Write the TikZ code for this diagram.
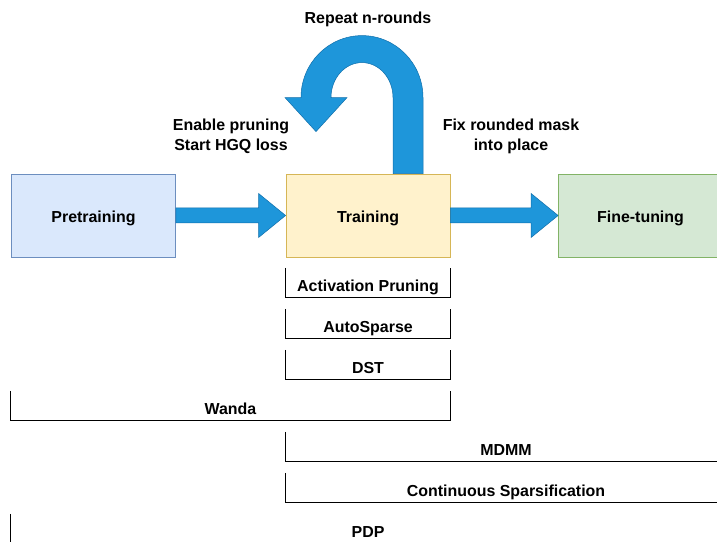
\documentclass[tikz,border=0pt]{standalone}
\usepackage{fontspec}
\setmainfont{Liberation Sans}
\usetikzlibrary{calc}
\definecolor{arrowblue}{RGB}{30,150,218}
\definecolor{arrowedge}{RGB}{16,110,170}
\definecolor{prefill}{HTML}{DAE8FC}
\definecolor{predraw}{HTML}{6C8EBF}
\definecolor{trainfill}{HTML}{FFF2CC}
\definecolor{traindraw}{HTML}{D6B656}
\definecolor{finefill}{HTML}{D5E8D4}
\definecolor{finedraw}{HTML}{82B366}

\begin{document}
\begin{tikzpicture}[x=1bp, y=1bp, font=\fontsize{16}{20}\selectfont\bfseries,
	box/.style={line width=0.8bp, minimum width=164bp, minimum height=83bp, inner sep=0pt, text height=14bp, text depth=0pt},
	stage/.style={minimum height=29bp, inner sep=0pt, text height=18bp, text depth=0pt},
	barrow/.style={fill=arrowblue, draw=arrowedge, line width=0.5bp},
	note/.style={align=center}]
	\clip (0,0) rectangle (717,542);
	
	\node[box, fill=prefill, draw=predraw] (pre) at (93.5,326.5) {Pretraining};
	\node[box, fill=trainfill, draw=traindraw] (train) at (368,326.5) {Training};
	\node[box, fill=finefill, draw=finedraw] (fine) at (640.5,326.5) {Fine-tuning};
	
	\draw[barrow] ($(pre.east)+(0,7.5)$) -- ($(train.west)+(-27,7.5)$) -- ($(train.west)+(-27,22)$) -- (train.west) -- ($(train.west)+(-27,-22)$) -- ($(train.west)+(-27,-7.5)$) -- ($(pre.east)+(0,-7.5)$) -- cycle;
	\draw[barrow] ($(train.east)+(0,7.5)$) -- ($(fine.west)+(-27,7.5)$) -- ($(fine.west)+(-27,22)$) -- (fine.west) -- ($(fine.west)+(-27,-22)$) -- ($(fine.west)+(-27,-7.5)$) -- ($(train.east)+(0,-7.5)$) -- cycle;
	
	\draw[barrow, shift={(train.north)}] (55,0) -- (55,76) arc[start angle=0, end angle=180, x radius=61, y radius=62] -- (-83,76) -- (-52,42) -- (-21,76) -- (-37,76) arc[start angle=180, end angle=0, x radius=31, y radius=35] -- (25,0) -- cycle;
	
	\node[note] (rep) at (368,522.5) {Repeat n-rounds};
	\node[note] (enable) at (231,405.5) {Enable pruning\\Start HGQ loss};
	\node[note] (fix) at (511,405.5) {Fix rounded mask\\into place};
	
	\node[stage, minimum width=164bp] (act) at (368,259.5) {Activation Pruning};
	\node[stage, minimum width=164bp] (auto) at (368,218.5) {AutoSparse};
	\node[stage, minimum width=164bp] (dst) at (368,177.5) {DST};
	\node[stage, minimum width=439bp] (wanda) at (230.5,136.5) {Wanda};
	\node[stage, minimum width=440bp] (mdmm) at (506,95.5) {MDMM};
	\node[stage, minimum width=440bp] (cs) at (506,54.5) {Continuous Sparsification};
	\node[stage, minimum width=714bp] (pdp) at (368,13.5) {PDP};
	
	\draw[line width=0.8bp] (act.north west) |- (act.south east) -- (act.north east);
	\draw[line width=0.8bp] (auto.north west) |- (auto.south east) -- (auto.north east);
	\draw[line width=0.8bp] (dst.north west) |- (dst.south east) -- (dst.north east);
	\draw[line width=0.8bp] (wanda.north west) |- (wanda.south east) -- (wanda.north east);
	\draw[line width=0.8bp] (mdmm.north west) |- (mdmm.south east) -- (mdmm.north east);
	\draw[line width=0.8bp] (cs.north west) |- (cs.south east) -- (cs.north east);
	\draw[line width=0.8bp] (pdp.north west) |- (pdp.south east) -- (pdp.north east);
\end{tikzpicture}
\end{document}
